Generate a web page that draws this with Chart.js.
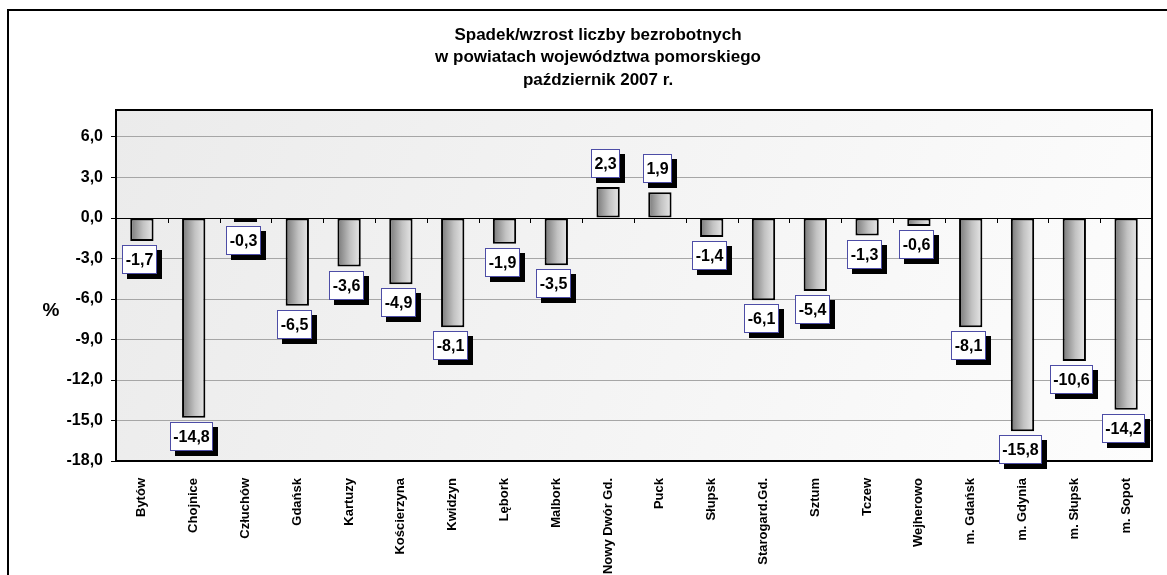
<!DOCTYPE html>
<html>
<head>
<meta charset="utf-8">
<script src="https://cdn.jsdelivr.net/npm/chart.js@4.4.0/dist/chart.umd.min.js"></script>
<style>
    html, body { margin: 0; padding: 0; background: #ffffff; }
    #wrap { position: relative; width: 1167px; height: 575px; }
</style>
</head>
<body>
<div id="wrap"><canvas id="bezrobocieChart"></canvas></div>
<script>
// Data
const powiaty = ['Bytów', 'Chojnice', 'Człuchów', 'Gdańsk', 'Kartuzy', 'Kościerzyna', 'Kwidzyn', 'Lębork',
    'Malbork', 'Nowy Dwór Gd.', 'Puck', 'Słupsk', 'Starogard.Gd.', 'Sztum', 'Tczew', 'Wejherowo',
    'm. Gdańsk', 'm. Gdynia', 'm. Słupsk', 'm. Sopot'];
const zmiana = [-1.7, -14.8, -0.3, -6.5, -3.6, -4.9, -8.1, -1.9, -3.5, 2.3, 1.9, -1.4, -6.1, -5.4, -1.3, -0.6,
    -8.1, -15.8, -10.6, -14.2];
const yTicks = [-18, -15, -12, -9, -6, -3, 0, 3, 6];
const titleLines = ['Spadek/wzrost liczby bezrobotnych', 'w powiatach województwa pomorskiego', 'październik 2007 r.'];

Chart.defaults.font.family = "'Liberation Sans', Arial, sans-serif";
Chart.defaults.color = '#000000';

function fmt(v) {
    return v.toFixed(1).replace('.', ',');
}

// Frame, title, plot background, zero line and value boxes
const decorPlugin = {
    id: 'decor',
    beforeDraw(chart) {
        const ctx = chart.ctx;
        const a = chart.chartArea;
        ctx.save();
        const bg = ctx.createLinearGradient(a.left, a.top, a.right, a.bottom);
        bg.addColorStop(0, '#ebebeb');
        bg.addColorStop(1, '#fdfdfd');
        ctx.fillStyle = bg;
        ctx.fillRect(a.left, a.top, a.right - a.left, a.bottom - a.top);

        // outer frame
        ctx.strokeStyle = '#000000';
        ctx.lineWidth = 2;
        ctx.beginPath();
        ctx.moveTo(8, 575);
        ctx.lineTo(8, 10);
        ctx.lineTo(1167, 10);
        ctx.stroke();

        // title
        ctx.fillStyle = '#000000';
        ctx.font = "bold 17px 'Liberation Sans', Arial, sans-serif";
        ctx.textAlign = 'center';
        ctx.textBaseline = 'middle';
        titleLines.forEach(function(line, i) {
            ctx.fillText(line, 598, 35 + i * 22.5);
        });

        // y axis title
        ctx.font = "bold 19px 'Liberation Sans', Arial, sans-serif";
        ctx.fillText('%', 51, 311);
        ctx.restore();
    },
    beforeDatasetsDraw(chart) {
        const ctx = chart.ctx;
        const a = chart.chartArea;
        const y0 = chart.scales.y.getPixelForValue(0);
        const step = (a.right - a.left) / powiaty.length;
        ctx.save();
        ctx.strokeStyle = '#000000';
        ctx.lineWidth = 1;
        ctx.beginPath();
        ctx.moveTo(a.left, y0 + 0.5);
        ctx.lineTo(a.right, y0 + 0.5);
        for (let i = 1; i < powiaty.length; i++) {
            const x = Math.round(a.left + i * step) + 0.5;
            ctx.moveTo(x, y0);
            ctx.lineTo(x, y0 + 5);
        }
        ctx.stroke();
        ctx.restore();
    },
    afterDatasetsDraw(chart) {
        const ctx = chart.ctx;
        const a = chart.chartArea;
        ctx.save();
        ctx.strokeStyle = '#000000';
        ctx.lineWidth = 2;
        ctx.strokeRect(a.left, a.top, a.right - a.left, a.bottom - a.top);

        const meta = chart.getDatasetMeta(0);
        ctx.font = "bold 16px 'Liberation Sans', Arial, sans-serif";
        ctx.textAlign = 'center';
        ctx.textBaseline = 'middle';
        meta.data.forEach(function(bar, i) {
            const v = zmiana[i];
            const text = fmt(v);
            const w = Math.round(ctx.measureText(text).width) + 7;
            const h = 29;
            const cx = bar.x - 2.5;
            let top;
            if (v < 0) {
                top = bar.y + 4;
            } else {
                top = bar.y - 4 - 5 - h;
            }
            const left = Math.round(cx - w / 2);
            top = Math.round(top);
            ctx.fillStyle = '#000000';
            ctx.fillRect(left + 5, top + 5, w, h);
            ctx.fillStyle = '#ffffff';
            ctx.fillRect(left, top, w, h);
            ctx.strokeStyle = '#4d4da6';
            ctx.lineWidth = 1;
            ctx.strokeRect(left + 0.5, top + 0.5, w - 1, h - 1);
            ctx.fillStyle = '#000000';
            ctx.fillText(text, left + w / 2, top + h / 2 + 1);
        });
        ctx.restore();
    }
};

const barPct = 0.45;

new Chart(document.getElementById('bezrobocieChart').getContext('2d'), {
    type: 'bar',
    data: {
        labels: powiaty,
        datasets: [{
            data: zmiana,
            backgroundColor: function(context) {
                const chart = context.chart;
                const xs = chart.scales.x;
                if (!chart.chartArea || !xs) return '#b0b0b0';
                const x = xs.getPixelForValue(context.dataIndex);
                const w = (chart.chartArea.right - chart.chartArea.left) / powiaty.length * barPct;
                const g = chart.ctx.createLinearGradient(x - w / 2, 0, x + w / 2, 0);
                g.addColorStop(0, '#777777');
                g.addColorStop(0.55, '#c2c2c2');
                g.addColorStop(1, '#e8e8e8');
                return g;
            },
            borderColor: '#000000',
            borderWidth: 2,
            borderSkipped: false,
            barPercentage: barPct,
            categoryPercentage: 1
        }]
    },
    options: {
        responsive: true,
        maintainAspectRatio: false,
        animation: false,
        layout: {
            padding: { top: 110, right: 15, left: 0, bottom: 0 }
        },
        plugins: {
            legend: { display: false },
            title: { display: false },
            tooltip: { enabled: false }
        },
        scales: {
            x: {
                afterFit: function(scale) { scale.height = 114; },
                grid: { display: false },
                border: { display: false },
                ticks: {
                    autoSkip: false,
                    minRotation: 90,
                    maxRotation: 90,
                    padding: 9,
                    color: '#000000',
                    font: { size: 13, weight: 'bold' }
                }
            },
            y: {
                min: -18,
                max: 8,
                afterFit: function(scale) { scale.width = 116; },
                afterBuildTicks: function(scale) {
                    scale.ticks = yTicks.map(function(v) { return { value: v }; });
                },
                grid: {
                    color: '#a6a6a6',
                    lineWidth: 1,
                    tickColor: '#000000',
                    tickLength: 5
                },
                border: { display: false },
                ticks: {
                    padding: 8,
                    color: '#000000',
                    font: { size: 16, weight: 'bold' },
                    callback: function(value) { return fmt(value); }
                }
            }
        }
    },
    plugins: [decorPlugin]
});
</script>
</body>
</html>
